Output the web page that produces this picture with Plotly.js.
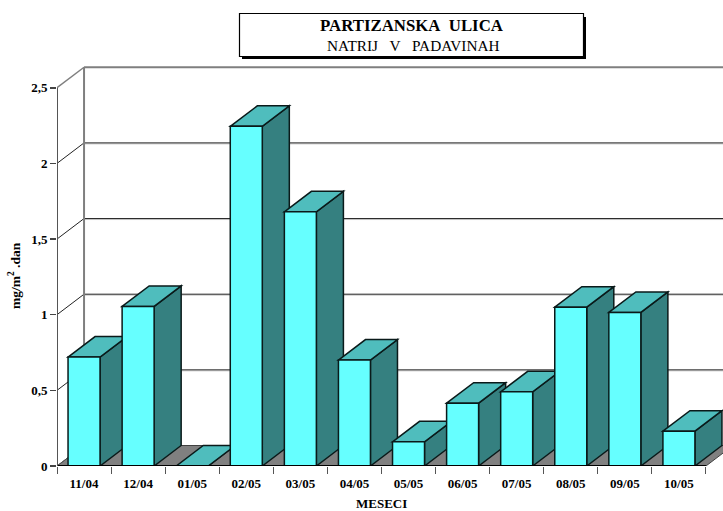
<!DOCTYPE html>
<html><head><meta charset="utf-8">
<script src="https://cdn.plot.ly/plotly-3.0.1.min.js"></script>
<style>html,body{margin:0;padding:0;background:#fff}</style>
</head><body><div id="c" style="width:723px;height:511px"></div>
<script>
const categories = ["11/04","12/04","01/05","02/05","03/05","04/05","05/05","06/05","07/05","08/05","09/05","10/05"];
const values = [0.72,1.055,0,2.245,1.68,0.70,0.16,0.415,0.49,1.05,1.015,0.23];
const yTicks = [0,0.5,1,1.5,2,2.5];
const yLabels = ["0","0,5","1","1,5","2","2,5"];

const W=723,H=511, mL=57, mT=60, mB=45;
const pxX=54.08, pxY=151.3;
const xMax=(W-mL)/pxX, yMax=(H-mB-mT)/pxY;
const dx=0.5, dy=20.5/pxY, barW=32/pxX;
const n=categories.length;
const centers=categories.map((_,i)=>i+0.5);
const edges=Array.from({length:n+1},(_,i)=>i);
const poly=p=>'M'+p.map(q=>q[0]+','+q[1]).join('L')+'Z';
const shapes=[];
const add=(path,fill,color,width)=>shapes.push({type:'path',path,xref:'x',yref:'y',layer:'below',fillcolor:fill,line:{color:color,width:width}});
const seg=(a,b,color,width)=>shapes.push({type:'line',xref:'x',yref:'y',layer:'below',x0:a[0],y0:a[1],x1:b[0],y1:b[1],line:{color,width}});

// floor
add(poly([[0,0],[dx,dy],[n+dx,dy],[n,0]]),'#808080','#404040',1);
// walls and grid
yTicks.forEach((v,i)=>{
  const top=i===yTicks.length-1;
  if(i>0){
    seg([0,v],[dx,v+dy],top?'#7f7f7f':'#222',top?1.5:1);
    if(!top) seg([dx,v+dy-1/pxY],[xMax,v+dy-1/pxY],'#c8c8c8',1);
    seg([dx,v+dy],[xMax,v+dy],top?'#7f7f7f':'#222',top?2:1);
  } else seg([0,0],[dx,dy],'#555',1);
});
seg([dx,dy],[dx,yTicks[yTicks.length-1]+dy],'#7f7f7f',2);
// bar depth faces, left to right
values.forEach((v,i)=>{
  const l=centers[i]-barW/2, r=centers[i]+barW/2;
  add(poly([[r,0],[r+dx,dy],[r+dx,v+dy],[r,v]]),'#358080','#0a1a1a',1.5);
  add(poly([[l,v],[l+dx,v+dy],[r+dx,v+dy],[r,v]]),'#4fbdbd','#0a1a1a',1.5);
});
// title box
const pX=x=>(x-mL)/(W-mL), pY=y=>(H-mB-y)/(H-mB-mT);
const rect=(x0,y0,x1,y1,fill,lc,lw)=>shapes.push({type:'rect',xref:'paper',yref:'paper',layer:'above',x0:pX(x0),x1:pX(x1),y0:pY(y1),y1:pY(y0),fillcolor:fill,line:{color:lc,width:lw}});
rect(242,17,586,59,'#000','#000',0);
rect(239.5,13.5,583.5,56.5,'#fff','#000',1.2);

const serif='"Liberation Serif","Times New Roman",serif';
const traces=[
 {type:'bar',x:centers,y:values,width:barW,marker:{color:'#66ffff',line:{color:'#0a1a1a',width:1.5}},hoverinfo:'skip',cliponaxis:false},
 {type:'scatter',mode:'lines',x:[0,n],y:[0,0],line:{color:'#000',width:2},cliponaxis:false,hoverinfo:'skip'},
 {type:'scatter',mode:'lines',x:[0,0],y:[0,yTicks[yTicks.length-1]],line:{color:'#555',width:2},cliponaxis:false,hoverinfo:'skip'}
];
const layout={
 width:W,height:H,showlegend:false,paper_bgcolor:'#fff',plot_bgcolor:'#fff',
 margin:{l:mL,r:0,t:mT,b:mB,pad:0},bargap:0,shapes,
 title:{text:'<b>PARTIZANSKA\u00A0\u00A0ULICA</b>',x:411.5/W,xanchor:'center',y:1-25/H,yanchor:'middle',font:{family:serif,size:16.8,color:'#000'}},
 xaxis:{range:[0,xMax],tickmode:'array',tickvals:centers,ticktext:categories.map(c=>'<b>'+c+'</b>'),ticks:'outside',ticklen:5,tickwidth:0,tickcolor:'rgba(0,0,0,0)',
   showgrid:false,zeroline:false,showline:false,tickangle:0,
   tickfont:{family:serif,size:13,color:'#000'},
   minor:{tickmode:'array',tickvals:edges,ticks:'outside',ticklen:7,tickwidth:1,tickcolor:'#555',showgrid:false}},
 yaxis:{range:[0,yMax],tickmode:'array',tickvals:yTicks,ticktext:yLabels.map(c=>'<b>'+c+'</b>'),ticks:'outside',ticklen:6,tickwidth:1.5,tickcolor:'#444',
   showgrid:false,zeroline:false,showline:false,
   tickfont:{family:serif,size:13,color:'#000'}},
 annotations:[
  {xref:'paper',yref:'paper',x:pX(413.5),y:pY(45),xanchor:'center',yanchor:'middle',showarrow:false,
   text:'NATRIJ\u00A0\u00A0\u00A0V\u00A0\u00A0\u00A0PADAVINAH',font:{family:serif,size:15.3,color:'#000'}},
  {xref:'paper',yref:'paper',x:pX(381.5),y:pY(503.5),xanchor:'center',yanchor:'middle',showarrow:false,borderpad:0,
   text:'<b>MESECI</b>',font:{family:serif,size:13,color:'#000'}},
  {xref:'paper',yref:'paper',x:pX(14),y:pY(276),xanchor:'center',yanchor:'middle',showarrow:false,borderpad:0,textangle:-90,
   text:'<b>mg/m<sup>2</sup> .dan</b>',font:{family:serif,size:13.5,color:'#000'}}]
};
Plotly.newPlot('c',traces,layout,{displayModeBar:false,staticPlot:true});
</script></body></html>
